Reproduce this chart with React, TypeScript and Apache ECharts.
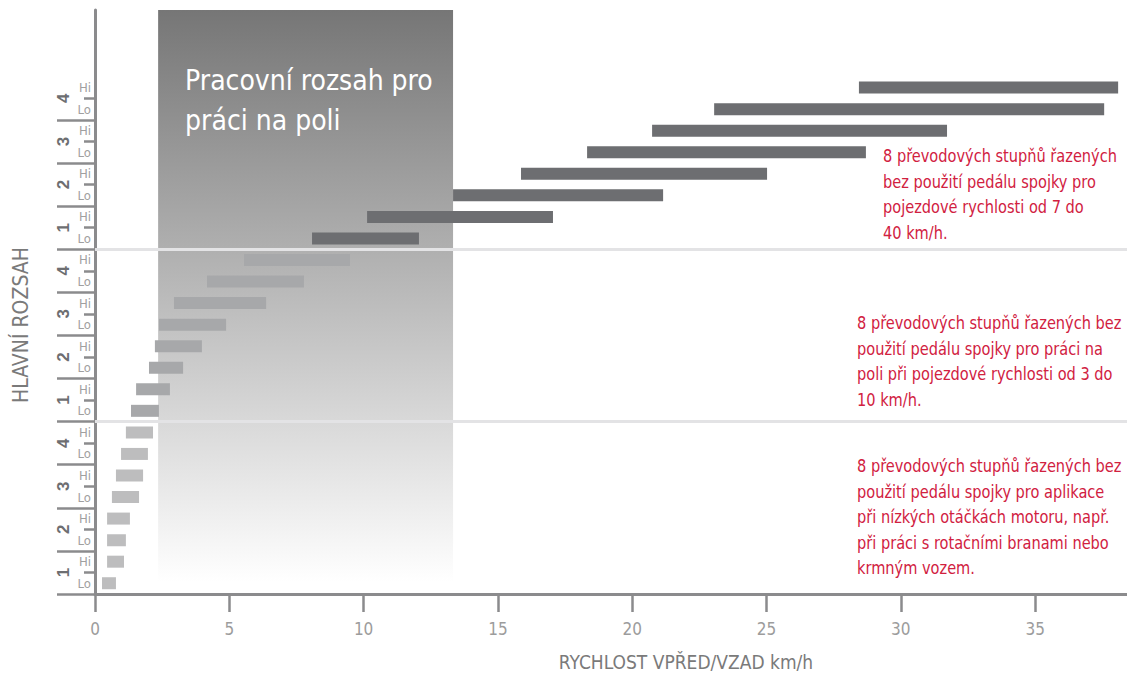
import React, { useEffect, useRef } from "react";
import * as echarts from "echarts";

// ---- data ----
const gears = ["1", "2", "3", "4"];
const levels = ["Lo", "Hi"];
const rangeColors = ["#bdbdbe", "#a7a8aa", "#6d6e71"];
// start / end speeds (km/h) per row, order: 1Lo,1Hi,2Lo,2Hi,3Lo,3Hi,4Lo,4Hi
const lowStart = [0.26, 0.45, 0.45, 0.45, 0.63, 0.78, 0.97, 1.15];
const lowEnd = [0.78, 1.08, 1.15, 1.3, 1.64, 1.79, 1.97, 2.16];
const midStart = [1.34, 1.53, 2.01, 2.23, 2.38, 2.94, 4.17, 5.55];
const midEnd = [2.38, 2.79, 3.28, 3.98, 4.88, 6.37, 7.78, 9.49];
const topStart = [8.08, 10.13, 13.33, 15.86, 18.32, 20.74, 23.05, 28.44];
const topEnd = [12.06, 17.05, 21.15, 25.02, 28.7, 31.72, 37.57, 38.09];
const fieldRange = [2.35, 13.33];
const fieldTitle = "Pracovní rozsah pro\npráci na poli";
const rangeSeparators = [8, 16];
const xTicks = { min: 0, max: 38.42, interval: 5 };
const yMax = 27.1;
const notes = [
  "8 převodových stupňů řazených\nbez použití pedálu spojky pro\npojezdové rychlosti od 7 do\n40 km/h.",
  "8 převodových stupňů řazených bez\npoužití pedálu spojky pro práci na\npoli při pojezdové rychlosti od 3 do\n10 km/h.",
  "8 převodových stupňů řazených bez\npoužití pedálu spojky pro aplikace\npři nízkých otáčkách motoru, např.\npři práci s rotačními branami nebo\nkrmným vozem.",
];

const FONT = "'Liberation Sans Narrow', 'DejaVu Sans Condensed', 'Roboto Condensed', sans-serif";
const RED = "#d1213f";

export default function App() {
  const ref = useRef<HTMLDivElement>(null);
  useEffect(() => {
    if (!ref.current) return;
    const chart = echarts.init(ref.current, null, { renderer: "svg" });

    const ranges = [
      [lowStart, lowEnd],
      [midStart, midEnd],
      [topStart, topEnd],
    ];
    const barData: number[][] = [];
    ranges.forEach(([s, e], ri) => {
      s.forEach((v, i) => {
        const row = ri * 8 + i;
        barData.push([v, e[i], row + 0.5, ri]);
      });
    });
    const rowLabels: string[] = [];
    for (let r = 0; r < 3; r++)
      for (let g = 0; g < 4; g++) for (let l = 0; l < 2; l++) rowLabels.push(levels[l]);
    const rowCenters = rowLabels.map((_, i) => i + 0.5);
    const shortTicks: number[] = [];
    const longTicks: number[] = [];
    const groupCenters: number[] = [];
    for (let i = 0; i < 24; i += 2) {
      longTicks.push(i);
      shortTicks.push(i + 1);
      groupCenters.push(i + 1);
    }

    const axisGray = "#8b8b8d";
    const noteStyle = { fill: RED, fontSize: 18, lineHeight: 25.5, fontFamily: FONT };

    chart.setOption({
      animation: false,
      grid: { left: 95, right: 0, top: 10, bottom: 80, containLabel: false },
      xAxis: {
        type: "value",
        min: xTicks.min,
        max: xTicks.max,
        interval: xTicks.interval,
        axisLine: { show: true, lineStyle: { color: axisGray, width: 3 } },
        axisTick: { show: true, length: 18, lineStyle: { color: axisGray, width: 2.5 } },
        axisLabel: { color: "#9c9c9c", fontSize: 17, margin: 26, fontFamily: FONT, showMaxLabel: false },
        splitLine: { show: false },
        name: "RYCHLOST VPŘED/VZAD km/h",
        nameLocation: "middle",
        nameGap: 58,
        nameTextStyle: { color: "#7a7a7a", fontSize: 19, fontFamily: FONT, padding: [0, 0, 0, 150] },
      },
      yAxis: [
        {
          type: "value",
          min: 0,
          max: yMax,
          position: "left",
          axisLine: { show: true, lineStyle: { color: axisGray, width: 3 } },
          axisTick: {
            show: true,
            customValues: shortTicks,
            length: 11,
            lineStyle: { color: axisGray, width: 2.5 },
          },
          axisLabel: {
            customValues: rowCenters,
            formatter: (v: number) => rowLabels[Math.round(v - 0.5)] ?? "",
            color: "#a0a0a0",
            fontSize: 13,
            margin: 4,
            fontFamily: FONT,
          },
          splitLine: { show: false },
          name: "HLAVNÍ ROZSAH",
          nameLocation: "middle",
          nameRotate: 90,
          nameGap: 64,
          nameTextStyle: { color: "#7a7a7a", fontSize: 21, fontFamily: FONT, padding: [0, 46, 0, 0] },
        },
        {
          type: "value",
          min: 0,
          max: yMax,
          position: "left",
          axisLine: { show: false },
          axisTick: {
            show: true,
            customValues: longTicks,
            length: 38,
            lineStyle: { color: axisGray, width: 2.5 },
          },
          axisLabel: {
            customValues: groupCenters,
            formatter: (v: number) => gears[Math.round((v - 1) / 2) % 4] ?? "",
            rotate: 90,
            color: "#6d6e71",
            fontSize: 17,
            fontWeight: "bold",
            margin: 23,
            fontFamily: "'Liberation Sans', Arial, sans-serif",
          },
          splitLine: { show: false },
        },
      ],
      series: [
        {
          type: "line",
          data: [],
          z: 1,
          silent: true,
          markArea: {
            silent: true,
            itemStyle: {
              color: new echarts.graphic.LinearGradient(0, 0, 0, 1, [
                { offset: 0, color: "#767676" },
                { offset: 1, color: "#ffffff" },
              ]),
            },
            label: {
              show: true,
              position: [27, 50],
              formatter: fieldTitle,
              color: "#ffffff",
              fontSize: 28,
              lineHeight: 40,
              fontFamily: FONT,
            },
            data: [[{ xAxis: fieldRange[0], yAxis: 0.55 }, { xAxis: fieldRange[1], yAxis: yMax }]],
          },
        },
        {
          type: "custom",
          z: 3,
          data: barData,
          encode: { x: [0, 1], y: 2 },
          renderItem: (params: any, api: any) => {
            const s = api.value(0);
            const e = api.value(1);
            const row = api.value(2);
            const ri = api.value(3);
            const p0 = api.coord([s, row]);
            const p1 = api.coord([e, row]);
            const h = 12;
            return {
              type: "rect",
              shape: { x: p0[0], y: p0[1] - h / 2, width: p1[0] - p0[0], height: h },
              style: { fill: rangeColors[ri] },
            };
          },
          markLine: {
            silent: true,
            symbol: "none",
            label: { show: false },
            lineStyle: { color: "#e3e3e5", width: 3, type: "solid" },
            data: rangeSeparators.map((v) => ({ yAxis: v })),
          },
        },
      ],
      graphic: [
        { type: "text", x: 883, y: 143, scaleX: 0.9, style: { text: notes[0], ...noteStyle } },
        { type: "text", x: 857, y: 310, scaleX: 0.9, style: { text: notes[1], ...noteStyle } },
        { type: "text", x: 857, y: 453, scaleX: 0.9, style: { text: notes[2], ...noteStyle } },
      ],
    });
    return () => chart.dispose();
  }, []);
  return (
    <div
      ref={ref}
      style={{ position: "fixed", left: 0, top: 0, width: 1127, height: 676, background: "#fff" }}
    />
  );
}
